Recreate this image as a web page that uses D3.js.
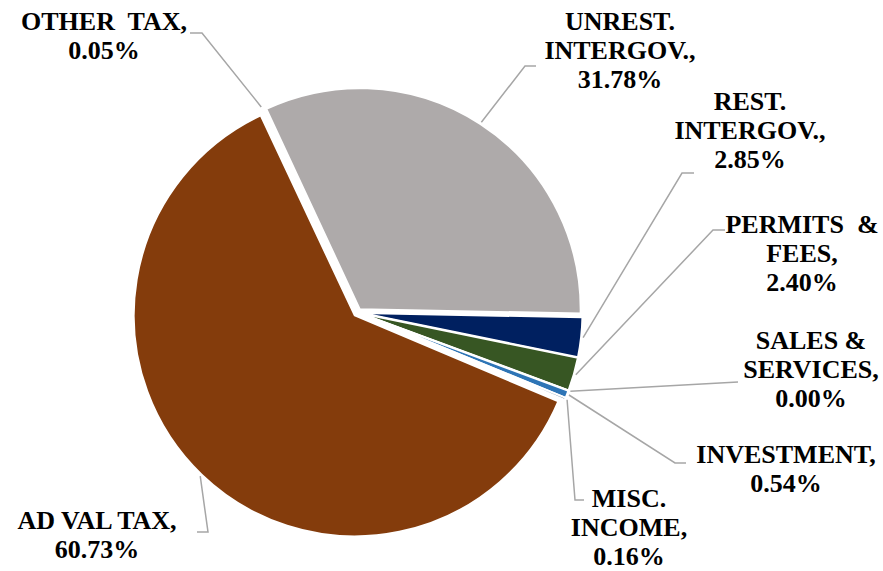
<!DOCTYPE html>
<html>
<head>
<meta charset="UTF-8">
<script src="https://d3js.org/d3.v7.min.js"></script>
</head>
<body style="margin:0">
<script>
// data
const categories = ["UNREST. INTERGOV.", "REST. INTERGOV.", "PERMITS & FEES", "SALES & SERVICES",
                    "INVESTMENT", "MISC. INCOME", "AD VAL TAX", "OTHER TAX"];
const shares = [31.78, 2.85, 2.40, 0.00, 0.54, 0.16, 60.73, 0.05];
const labelText = [["UNREST.", "INTERGOV.,"], ["REST.", "INTERGOV.,"], ["PERMITS\u00a0 &", "FEES,"],
                   ["SALES &", "SERVICES,"], ["INVESTMENT,"], ["MISC.", "INCOME,"],
                   ["AD VAL TAX,"], ["OTHER\u00a0 TAX,"]];

const colors = ["#AEAAAA", "#002060", "#375623", "#4472C4", "#2E75B6", "#1F4E79", "#843C0C", "#7F7F7F"];

// label layout: text centre x, first baseline y, leader elbow + end
const layout = [
  {x: 620, y: 30,  elbow: [525, 66],  end: [536, 66]},
  {x: 750, y: 110, elbow: [682, 173], end: [694, 173]},
  {x: 802, y: 233, elbow: [713, 230], end: [725, 230]},
  {x: 811, y: 349, elbow: null,       end: [738, 382]},
  {x: 786, y: 463, elbow: [675, 463], end: [686, 463]},
  {x: 629, y: 507, elbow: [575, 500], end: [584, 500]},
  {x: 97,  y: 529, elbow: [208, 532], end: [197, 532]},
  {x: 104, y: 30,  elbow: [202, 33],  end: [190, 33]}
];

const width = 883, height = 571;
const cx = 357.5, cy = 312.5, r = 221, explode = 4;
const lineH = 29;

const svg = d3.select("body").append("svg")
    .attr("width", width)
    .attr("height", height);

const pie = d3.pie()
    .sort(null)
    .value(d => d)
    .startAngle(-25 * Math.PI / 180)
    .endAngle(335 * Math.PI / 180);

const arcs = pie(shares);
const arc = d3.arc().innerRadius(0).outerRadius(r);

const g = svg.append("g").attr("transform", `translate(${cx},${cy})`);

function offset(d, dist) {
  const a = (d.startAngle + d.endAngle) / 2;
  return [Math.sin(a) * dist, -Math.cos(a) * dist];
}

g.selectAll("path")
  .data(arcs)
  .join("path")
    .attr("d", arc)
    .attr("transform", d => `translate(${offset(d, explode)})`)
    .attr("fill", (d, i) => colors[i])
    .attr("stroke", "#fff")
    .attr("stroke-width", 2)
    .attr("stroke-linejoin", "round");

// leader lines
svg.append("g").selectAll("path")
  .data(arcs)
  .join("path")
    .attr("fill", "none")
    .attr("stroke", "#A6A6A6")
    .attr("stroke-width", 1.5)
    .attr("d", (d, i) => {
      const p = offset(d, r + explode + 2);
      const pts = [[cx + p[0], cy + p[1]]];
      if (layout[i].elbow) pts.push(layout[i].elbow);
      pts.push(layout[i].end);
      return d3.line()(pts);
    });

// labels, one text per line
const lines = [];
arcs.forEach((d, i) => {
  labelText[i].concat([shares[i].toFixed(2) + "%"]).forEach((t, j) => {
    lines.push({t: t, x: layout[i].x, y: layout[i].y + j * lineH});
  });
});

svg.append("g").selectAll("text")
  .data(lines)
  .join("text")
    .attr("text-anchor", "middle")
    .attr("font-family", "Liberation Serif")
    .style("font-family", "'Liberation Serif', serif")
    .attr("font-weight", "bold")
    .attr("font-size", 26)
    .attr("fill", "#000")
    .attr("x", d => d.x)
    .attr("y", d => d.y)
    .text(d => d.t);
</script>
</body>
</html>
